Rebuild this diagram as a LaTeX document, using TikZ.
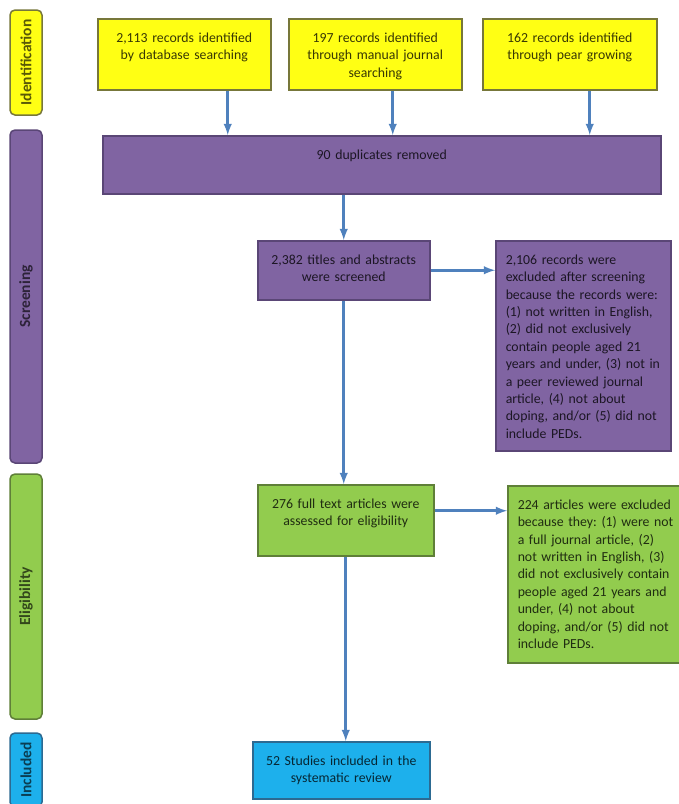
\documentclass[tikz,border=0pt]{standalone}
\usepackage{fontspec}
\setmainfont{Carlito}
\frenchspacing
\usepackage{tikz}
\definecolor{idyel}{HTML}{FFFF14}
\definecolor{idline}{HTML}{77773A}
\definecolor{scrpur}{HTML}{8064A2}
\definecolor{scrline}{HTML}{5A4676}
\definecolor{elgrn}{HTML}{92CC4E}
\definecolor{elline}{HTML}{5F7F38}
\definecolor{incblu}{HTML}{1DB0EC}
\definecolor{incline}{HTML}{2C6A92}
\definecolor{arrblu}{HTML}{4F81BD}
\tikzset{
	pbox/.style 2 args={draw=#2, fill=#1, line width=1.5pt, anchor=north west,
		inner xsep=4pt, inner ysep=0pt, align=center, text height=23.5pt,
		text=#1!22!black, font=\fontsize{13.8}{17.4}\selectfont},
	lbox/.style 2 args={pbox={#1}{#2}, inner xsep=10pt, align=left},
	stage/.style 2 args={draw=#2, fill=#1, line width=1.5pt, rounded corners=5pt,
		rotate=90, inner sep=0pt, minimum height=32pt, text=#1!35!black,
		font=\bfseries\fontsize{15.5}{17}\selectfont},
	arr/.style={draw=arrblu, line width=2.8pt, -latex}
}
\begin{document}
\begin{tikzpicture}[x=1pt, y=-1pt]
		\useasboundingbox(0, 0)rectangle(679, 804);
		% phases
		\node[stage={idyel}{idline}, minimum width=105pt](sid)at(26, 62.5){Identification};
		\node[stage={scrpur}{scrline}, minimum width=333pt](sscr)at(26, 296.5){Screening};
		\node[stage={elgrn}{elline}, minimum width=245pt](sel)at(26, 596.5){Eligibility};
		\node[stage={incblu}{incline}, minimum width=74pt](sinc)at(26, 770){Included};
		% identification
		\node[pbox={idyel}{idline}, text width=165pt, text depth=47.5pt](db)at(97, 18){2,113 records identified\\by database searching};
		\node[pbox={idyel}{idline}, text width=165pt, text depth=47.5pt](mj)at(288, 18){197 records identified\\through manual journal\\searching};
		\node[pbox={idyel}{idline}, text width=166pt, text depth=47.5pt](pg)at(482, 18){162 records identified\\through pear growing};
		% screening
		\node[pbox={scrpur}{scrline}, text width=550pt, text depth=34.5pt](dup)at(102, 135){90 duplicates removed};
		\node[pbox={scrpur}{scrline}, text width=164pt, text depth=35.5pt](scr)at(257, 240){2,382 titles and abstracts\\were screened};
		\node[lbox={scrpur}{scrline}, text width=155pt, text depth=186.5pt](exc)at(495, 240){2,106 records were\\excluded after screening\\because the records were:\\(1) not written in English,\\(2) did not exclusively\\contain people aged 21\\years and under, (3) not in\\a peer reviewed journal\\article, (4) not about\\doping, and/or (5) did not\\include PEDs.};
		% eligibility
		\node[pbox={elgrn}{elline}, text width=168pt, text depth=47.5pt](full)at(257, 484){276 full text articles were\\assessed for eligibility};
		\node[lbox={elgrn}{elline}, text width=166pt, text depth=153.5pt](exc2)at(507, 485){224 articles were excluded\\because they: (1) were not\\a full journal article, (2)\\not written in English, (3)\\did not exclusively contain\\people aged 21 years and\\under, (4) not about\\doping, and/or (5) did not\\include PEDs.};
		% included
		\node[pbox={incblu}{incline}, text width=169pt, text depth=33.5pt](inc)at(252, 741){52 Studies included in the\\systematic review};
		% arrows
		\draw[arr]([xshift=43.5pt]db.south)--([xshift=43.5pt]db.south |- dup.north);
		\draw[arr]([xshift=17.5pt]mj.south)--([xshift=17.5pt]mj.south |- dup.north);
		\draw[arr]([xshift=20pt]pg.south)--([xshift=20pt]pg.south |- dup.north);
		\draw[arr](scr.north |- dup.south)--(scr.north);
		\draw[arr](scr.east)--(scr.east -| exc.west);
		\draw[arr](scr.south)--(scr.south |- full.north);
		\draw[arr]([yshift=9.5pt]full.east)--([yshift=9.5pt]full.east -| exc2.west);
		\draw[arr](full.south)--(full.south |- inc.north);
	\end{tikzpicture}
\end{document}
